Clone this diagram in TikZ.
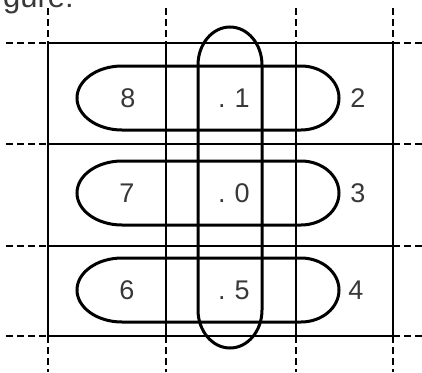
\documentclass[tikz,border=0pt]{standalone}
\usepackage{fontspec}
\setmainfont{Liberation Sans}
\begin{document}
\begin{tikzpicture}[x=1pt,y=-1pt,
    gridline/.style={line width=2.9pt},
    ext/.style={line width=2.6pt, dash pattern=on 7pt off 4pt},
    loop/.style={line width=3pt},
    lbl/.style={font=\fontsize{27}{30}\selectfont, text=black!78, inner sep=0pt}
]
\useasboundingbox (0,0) rectangle (422,372);
\clip (0,0) rectangle (422,372);
\node[lbl, anchor=base west, font=\fontsize{31}{33}\selectfont] (caption) at (3,8) {gure:};

% grid with dashed ends
\foreach \x in {48,166,296,393} {
  \draw[gridline] (\x,43) -- (\x,336);
  \draw[ext] (\x,8) -- (\x,43);
  \draw[ext] (\x,336) -- (\x,372);
}
\foreach \y in {43,144,246,336} {
  \draw[gridline] (48,\y) -- (393,\y);
  \draw[ext] (6,\y) -- (48,\y);
  \draw[ext] (393,\y) -- (422,\y);
}

% horizontal loops
\foreach \yc in {98,193,290} {
  \draw[loop] (122,\yc-32) -- (301,\yc-32)
    arc[start angle=-90, end angle=90, x radius=38, y radius=32]
    -- (122,\yc+32)
    arc[start angle=90, end angle=270, x radius=45, y radius=32] -- cycle;
}

% vertical loop
\draw[loop] (198,65) arc[start angle=180, end angle=360, x radius=32, y radius=38]
  -- (262,310) arc[start angle=0, end angle=180, x radius=32, y radius=38] -- cycle;

% labels
\node[lbl] (n8) at (128,98) {8};
\node[lbl] (n7) at (127,193) {7};
\node[lbl] (n6) at (127,290) {6};
\node[lbl] (d1) at (234,98) {.\,\,1};
\node[lbl] (d0) at (234,193) {.\,\,0};
\node[lbl] (d5) at (234,290) {.\,\,5};
\node[lbl] (n2) at (358,98) {2};
\node[lbl] (n3) at (358,193) {3};
\node[lbl] (n4) at (356,290) {4};
\end{tikzpicture}
\end{document}
